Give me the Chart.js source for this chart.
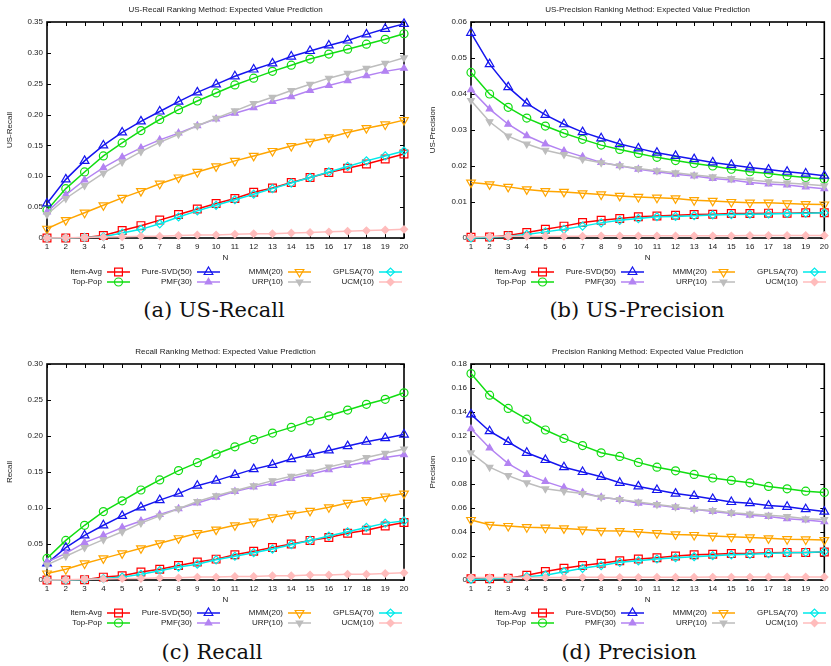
<!DOCTYPE html>
<html>
<head>
<meta charset="utf-8">
<script src="https://cdn.jsdelivr.net/npm/chart.js@4.4.0/dist/chart.umd.min.js"></script>
<style>
body { margin: 0; background: #fff; overflow: hidden; width: 831px; height: 666px; position: relative; }
canvas { position: absolute; }
.cap { position: absolute; font-family: "DejaVu Serif", serif; font-size: 21px; color: #111; white-space: nowrap; transform: translate(-50%, -50%); }
</style>
</head>
<body>
<canvas id="usrecall_canvas" width="415" height="292" style="left:0px;top:0px"></canvas>
<canvas id="usprecision_canvas" width="416" height="292" style="left:415px;top:0px"></canvas>
<canvas id="recall_canvas" width="415" height="292" style="left:0px;top:342px"></canvas>
<canvas id="precision_canvas" width="416" height="292" style="left:415px;top:342px"></canvas>
<div class="cap" style="left:214px;top:310px">(a) US-Recall</div>
<div class="cap" style="left:637px;top:310px">(b) US-Precision</div>
<div class="cap" style="left:212px;top:652px">(c) Recall</div>
<div class="cap" style="left:629px;top:652px">(d) Precision</div>
<script>
// data

const N = ["1", "2", "3", "4", "5", "6", "7", "8", "9", "10", "11", "12", "13", "14", "15", "16", "17", "18", "19", "20"];
const methods = ["Item-Avg", "Top-Pop", "Pure-SVD(50)", "PMF(30)", "MMM(20)", "URP(10)", "GPLSA(70)", "UCM(10)"];

// US-Recall
const usRecallItemAvg = [0, 0, 0.001, 0.004, 0.012, 0.020, 0.029, 0.038, 0.047, 0.056, 0.064, 0.074, 0.081, 0.090, 0.098, 0.106, 0.113, 0.120, 0.128, 0.136];
const usRecallTopPop = [0.045, 0.080, 0.107, 0.133, 0.154, 0.174, 0.192, 0.208, 0.222, 0.235, 0.248, 0.259, 0.270, 0.280, 0.290, 0.298, 0.306, 0.314, 0.322, 0.331];
const usRecallPureSVD = [0.056, 0.095, 0.125, 0.150, 0.171, 0.189, 0.205, 0.221, 0.236, 0.249, 0.262, 0.273, 0.283, 0.294, 0.303, 0.312, 0.320, 0.330, 0.339, 0.347];
const usRecallPMF = [0.042, 0.070, 0.094, 0.114, 0.131, 0.146, 0.159, 0.170, 0.182, 0.193, 0.202, 0.211, 0.221, 0.229, 0.239, 0.247, 0.255, 0.263, 0.270, 0.275];
const usRecallMMM = [0.015, 0.029, 0.041, 0.053, 0.065, 0.076, 0.088, 0.098, 0.107, 0.116, 0.125, 0.133, 0.141, 0.149, 0.156, 0.163, 0.171, 0.178, 0.184, 0.191];
const usRecallURP = [0.038, 0.064, 0.085, 0.105, 0.123, 0.140, 0.155, 0.168, 0.182, 0.194, 0.206, 0.218, 0.228, 0.239, 0.249, 0.259, 0.267, 0.275, 0.283, 0.292];
const usRecallGPLSA = [0, 0, 0.001, 0.002, 0.008, 0.014, 0.023, 0.034, 0.044, 0.053, 0.062, 0.071, 0.080, 0.089, 0.098, 0.107, 0.116, 0.125, 0.133, 0.141];
const usRecallUCM = [0, 0.0005, 0.001, 0.0015, 0.002, 0.003, 0.003, 0.004, 0.005, 0.005, 0.006, 0.007, 0.007, 0.008, 0.009, 0.010, 0.011, 0.012, 0.013, 0.014];

// US-Precision
const usPrecItemAvg = [0.0002, 0.0003, 0.0007, 0.0015, 0.0024, 0.0033, 0.0043, 0.0049, 0.0054, 0.0059, 0.0061, 0.0063, 0.0065, 0.0066, 0.0068, 0.0068, 0.0069, 0.0069, 0.0070, 0.0070];
const usPrecTopPop = [0.0460, 0.0400, 0.0363, 0.0333, 0.0311, 0.0291, 0.0274, 0.0258, 0.0246, 0.0235, 0.0224, 0.0215, 0.0207, 0.0200, 0.0191, 0.0184, 0.0179, 0.0173, 0.0168, 0.0164];
const usPrecPureSVD = [0.0570, 0.0483, 0.0419, 0.0374, 0.0342, 0.0316, 0.0294, 0.0277, 0.0261, 0.0249, 0.0237, 0.0228, 0.0219, 0.0210, 0.0203, 0.0196, 0.0190, 0.0184, 0.0179, 0.0173];
const usPrecPMF = [0.0412, 0.0358, 0.0316, 0.0284, 0.0261, 0.0242, 0.0226, 0.0210, 0.0201, 0.0191, 0.0184, 0.0177, 0.0172, 0.0165, 0.0161, 0.0154, 0.0150, 0.0147, 0.0142, 0.0137];
const usPrecMMM = [0.0154, 0.0149, 0.0142, 0.0135, 0.0130, 0.0128, 0.0124, 0.0121, 0.0117, 0.0114, 0.0112, 0.0110, 0.0105, 0.0103, 0.0100, 0.0098, 0.0098, 0.0096, 0.0094, 0.0093];
const usPrecURP = [0.0382, 0.0323, 0.0283, 0.0261, 0.0244, 0.0232, 0.0219, 0.0209, 0.0201, 0.0193, 0.0187, 0.0181, 0.0175, 0.0170, 0.0165, 0.0161, 0.0156, 0.0153, 0.0149, 0.0145];
const usPrecGPLSA = [0, 0.0002, 0.0005, 0.0010, 0.0017, 0.0024, 0.0033, 0.0042, 0.0049, 0.0054, 0.0059, 0.0060, 0.0062, 0.0064, 0.0065, 0.0066, 0.0067, 0.0068, 0.0069, 0.0070];
const usPrecUCM = [0.0003, 0.0004, 0.0005, 0.0005, 0.0005, 0.0005, 0.0005, 0.0006, 0.0006, 0.0006, 0.0006, 0.0006, 0.0006, 0.0006, 0.0006, 0.0007, 0.0007, 0.0007, 0.0007, 0.0007];

// Recall
const recallItemAvg = [0, 0, 0.0005, 0.004, 0.006, 0.011, 0.015, 0.020, 0.025, 0.029, 0.035, 0.040, 0.045, 0.050, 0.055, 0.059, 0.065, 0.069, 0.075, 0.080];
const recallTopPop = [0.030, 0.055, 0.076, 0.095, 0.110, 0.125, 0.139, 0.152, 0.163, 0.175, 0.185, 0.195, 0.204, 0.212, 0.221, 0.228, 0.236, 0.244, 0.251, 0.260];
const recallPureSVD = [0.023, 0.045, 0.062, 0.076, 0.089, 0.101, 0.111, 0.120, 0.131, 0.138, 0.146, 0.154, 0.160, 0.168, 0.174, 0.180, 0.186, 0.192, 0.197, 0.202];
const recallPMF = [0.025, 0.037, 0.052, 0.062, 0.073, 0.082, 0.091, 0.099, 0.107, 0.115, 0.123, 0.129, 0.134, 0.141, 0.147, 0.153, 0.159, 0.164, 0.170, 0.174];
const recallMMM = [0.009, 0.015, 0.023, 0.030, 0.037, 0.044, 0.051, 0.058, 0.065, 0.070, 0.076, 0.081, 0.087, 0.092, 0.096, 0.101, 0.107, 0.111, 0.116, 0.120];
const recallURP = [0.021, 0.033, 0.045, 0.056, 0.067, 0.079, 0.089, 0.099, 0.109, 0.117, 0.124, 0.131, 0.138, 0.144, 0.150, 0.157, 0.163, 0.170, 0.176, 0.182];
const recallGPLSA = [0, 0, 0.0005, 0.002, 0.004, 0.008, 0.013, 0.018, 0.022, 0.028, 0.033, 0.038, 0.043, 0.049, 0.055, 0.061, 0.067, 0.073, 0.079, 0.082];
const recallUCM = [0, 0.0005, 0.001, 0.0015, 0.002, 0.002, 0.003, 0.003, 0.004, 0.004, 0.005, 0.005, 0.006, 0.006, 0.007, 0.007, 0.008, 0.008, 0.009, 0.010];

// Precision
const precItemAvg = [0.001, 0.001, 0.0014, 0.004, 0.007, 0.0097, 0.012, 0.014, 0.016, 0.0175, 0.0186, 0.020, 0.021, 0.0214, 0.022, 0.022, 0.0228, 0.023, 0.023, 0.0233];
const precTopPop = [0.172, 0.154, 0.143, 0.134, 0.125, 0.118, 0.112, 0.106, 0.103, 0.098, 0.094, 0.091, 0.088, 0.085, 0.083, 0.081, 0.078, 0.076, 0.074, 0.073];
const precPureSVD = [0.138, 0.124, 0.115, 0.106, 0.100, 0.094, 0.090, 0.086, 0.081, 0.078, 0.075, 0.072, 0.070, 0.0675, 0.065, 0.064, 0.062, 0.061, 0.059, 0.057];
const precPMF = [0.126, 0.110, 0.097, 0.088, 0.082, 0.077, 0.073, 0.069, 0.067, 0.064, 0.0625, 0.0605, 0.059, 0.057, 0.0555, 0.054, 0.053, 0.051, 0.050, 0.0486];
const precMMM = [0.050, 0.046, 0.045, 0.044, 0.0436, 0.043, 0.042, 0.041, 0.0408, 0.040, 0.039, 0.038, 0.0375, 0.0367, 0.036, 0.0355, 0.0347, 0.034, 0.0338, 0.0333];
const precURP = [0.106, 0.094, 0.087, 0.081, 0.076, 0.074, 0.072, 0.069, 0.067, 0.065, 0.063, 0.061, 0.059, 0.058, 0.056, 0.055, 0.054, 0.053, 0.051, 0.0505];
const precGPLSA = [0.0005, 0.001, 0.0015, 0.0028, 0.004, 0.0069, 0.0097, 0.012, 0.0147, 0.016, 0.0175, 0.0186, 0.0194, 0.0203, 0.021, 0.0214, 0.022, 0.0228, 0.023, 0.0236];
const precUCM = [0.002, 0.002, 0.002, 0.002, 0.002, 0.002, 0.0022, 0.0022, 0.0022, 0.0022, 0.0023, 0.0023, 0.0023, 0.0024, 0.0024, 0.0024, 0.0025, 0.0025, 0.0025, 0.0025];

// y axis ticks
const usRecallTicks = [0, 0.35, 0.05];
const usPrecTicks = [0, 0.06, 0.01];
const recallTicks = [0, 0.3, 0.05];
const precTicks = [0, 0.18, 0.02];

// looks of each method (gnuplot point types)
const looks = [
  { color: '#ff0000', style: 'rect', r: 5.5, open: true, rot: 0 },
  { color: '#11dd11', style: 'circle', r: 4, open: true, rot: 0 },
  { color: '#1515ee', style: 'triangle', r: 5, open: true, rot: 0 },
  { color: '#b383f2', style: 'triangle', r: 3.8, open: false, rot: 0 },
  { color: '#ffa500', style: 'triangle', r: 5, open: true, rot: 180 },
  { color: '#bdbdbd', style: 'triangle', r: 3.8, open: false, rot: 180 },
  { color: '#00eaea', style: 'rectRot', r: 4, open: true, rot: 0 },
  { color: '#ffbcbc', style: 'rectRot', r: 3.6, open: false, rot: 0 },
];

const FONT = '"Liberation Sans", Arial, sans-serif';
const TXT = '#1a1a1a';

// frame with inner ticks, title on top, gnuplot key below

const gnuplotLook = {
  id: 'gnuplotLook',
  beforeDatasetsDraw(chart) {
    const ctx = chart.ctx;
    const a = chart.chartArea;
    const x = chart.scales.x;
    const y = chart.scales.y;
    ctx.save();
    ctx.strokeStyle = '#000';
    ctx.lineWidth = 1;
    ctx.beginPath();
    y.ticks.forEach(t => {
      const py = Math.round(y.getPixelForValue(t.value)) + 0.5;
      ctx.moveTo(a.left, py); ctx.lineTo(a.left + 4, py);
      ctx.moveTo(a.right, py); ctx.lineTo(a.right - 4, py);
    });
    x.ticks.forEach((t, i) => {
      const px = Math.round(x.getPixelForTick(i)) + 0.5;
      ctx.moveTo(px, a.bottom); ctx.lineTo(px, a.bottom - 4);
      ctx.moveTo(px, a.top); ctx.lineTo(px, a.top + 4);
    });
    ctx.stroke();
    ctx.lineWidth = 1.6;
    ctx.strokeRect(a.left, a.top, a.right - a.left, a.bottom - a.top);
    ctx.restore();
  },
  afterDraw(chart, args, opts) {
    const ctx = chart.ctx;
    const a = chart.chartArea;
    ctx.save();
    ctx.font = '8px ' + FONT;
    ctx.fillStyle = TXT;
    ctx.textBaseline = 'middle';
    ctx.textAlign = 'center';
    ctx.fillText(opts.title, (a.left + a.right) / 2, 10);

    const cols = [55, 145, 236, 327];
    const rows = opts.rows;
    chart.data.datasets.forEach((ds, i) => {
      const lk = looks[i];
      const tx = a.left + cols[Math.floor(i / 2)];
      const ty = a.bottom + rows[i % 2];
      ctx.fillStyle = TXT;
      ctx.textAlign = 'right';
      ctx.fillText(ds.label, tx, ty);
      ctx.strokeStyle = lk.color;
      ctx.lineWidth = 1.5;
      ctx.beginPath();
      ctx.moveTo(tx + 5, ty);
      ctx.lineTo(tx + 28, ty);
      ctx.stroke();
      ctx.fillStyle = lk.open ? 'rgba(0,0,0,0)' : lk.color;
      ctx.lineWidth = 1.2;
      if (Chart.helpers && Chart.helpers.drawPoint) {
        Chart.helpers.drawPoint(ctx, { pointStyle: lk.style, rotation: lk.rot, radius: lk.r, borderWidth: 1.2 }, tx + 16.5, ty);
      }
    });
    ctx.restore();
  }
};

function makeDatasets(arrays) {
  return arrays.map((d, i) => {
    const lk = looks[i];
    return {
      label: methods[i],
      data: d,
      borderColor: lk.color,
      borderWidth: 1.5,
      pointStyle: lk.style,
      pointRotation: lk.rot,
      pointRadius: lk.r,
      pointBorderWidth: 1.2,
      pointBorderColor: lk.color,
      pointBackgroundColor: lk.open ? 'rgba(0,0,0,0)' : lk.color,
      backgroundColor: lk.color,
      fill: false,
      tension: 0,
      clip: false,
      order: 7 - i,
    };
  });
}

function makePanel(id, title, yTitle, yTicks, arrays, plotLeft, yTitlePad, padRight, rows) {
  const ctx = document.getElementById(id).getContext('2d');
  return new Chart(ctx, {
    type: 'line',
    data: { labels: N, datasets: makeDatasets(arrays) },
    options: {
      responsive: false,
      animation: false,
      devicePixelRatio: 1,
      layout: { padding: { top: 22, left: 0, right: padRight, bottom: 29 } },
      plugins: {
        legend: { display: false },
        tooltip: { enabled: false },
        gnuplotLook: { title: title, rows: rows },
      },
      scales: {
        x: {
          grid: { display: false, drawTicks: false, tickLength: 0 },
          border: { display: false },
          ticks: { font: { family: FONT, size: 8 }, color: TXT, padding: 4, maxRotation: 0, autoSkip: false },
          title: { display: true, text: 'N', font: { family: FONT, size: 8 }, color: TXT, padding: { top: 0, bottom: 0 } },
          afterFit(s) { s.height = 25; s.paddingLeft = 0; s.paddingRight = 0; },
        },
        y: {
          min: yTicks[0],
          max: yTicks[1],
          grid: { display: false, drawTicks: false, tickLength: 0 },
          border: { display: false },
          ticks: { stepSize: yTicks[2], font: { family: FONT, size: 8 }, color: TXT, padding: 4 },
          title: { display: true, text: yTitle, font: { family: FONT, size: 8 }, color: TXT, padding: { top: yTitlePad, bottom: 0 } },
          afterFit(s) { s.width = plotLeft; },
        },
      },
    },
    plugins: [gnuplotLook],
  });
}

//panel_a
makePanel('usrecall_canvas', 'US-Recall Ranking Method: Expected Value Prediction', 'US-Recall', usRecallTicks,
  [usRecallItemAvg, usRecallTopPop, usRecallPureSVD, usRecallPMF, usRecallMMM, usRecallURP, usRecallGPLSA, usRecallUCM],
  47, 5, 11, [34, 44]);

//panel_b
makePanel('usprecision_canvas', 'US-Precision Ranking Method: Expected Value Prediction', 'US-Precision', usPrecTicks,
  [usPrecItemAvg, usPrecTopPop, usPrecPureSVD, usPrecPMF, usPrecMMM, usPrecURP, usPrecGPLSA, usPrecUCM],
  56, 13, 2, [34, 44]);

//panel_c
makePanel('recall_canvas', 'Recall Ranking Method: Expected Value Prediction', 'Recall', recallTicks,
  [recallItemAvg, recallTopPop, recallPureSVD, recallPMF, recallMMM, recallURP, recallGPLSA, recallUCM],
  47, 5, 11, [33, 43]);

//panel_d
makePanel('precision_canvas', 'Precision Ranking Method: Expected Value Prediction', 'Precision', precTicks,
  [precItemAvg, precTopPop, precPureSVD, precPMF, precMMM, precURP, precGPLSA, precUCM],
  56, 13, 2, [33, 43]);
</script>
</body>
</html>
